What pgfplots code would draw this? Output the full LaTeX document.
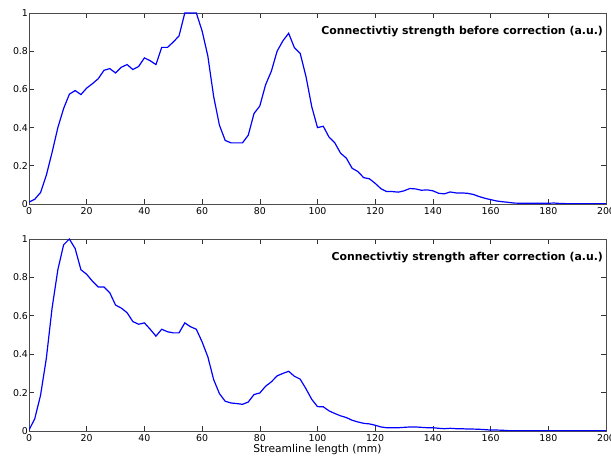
\documentclass[border=0pt]{standalone}
\usepackage{pgfplots}
\pgfplotsset{compat=1.18}
\usepackage{fontspec}
\setmainfont{DejaVu Sans}
\pgfplotstableread{
x y
0 0.01
2 0.025
4 0.06
6 0.15
8 0.27
10 0.40
12 0.50
14 0.575
16 0.594
18 0.573
20 0.607
22 0.63
24 0.656
26 0.70
28 0.709
30 0.686
32 0.716
34 0.73
36 0.704
38 0.72
40 0.765
42 0.75
44 0.73
46 0.82
48 0.82
50 0.848
52 0.88
54 1.0
56 1.0
58 1.0
60 0.906
62 0.774
64 0.563
66 0.413
68 0.333
70 0.32
72 0.32
74 0.32
76 0.36
78 0.474
80 0.513
82 0.624
84 0.695
86 0.80
88 0.854
90 0.894
92 0.818
94 0.788
96 0.668
98 0.51
100 0.40
102 0.407
104 0.35
106 0.32
108 0.266
110 0.24
112 0.187
114 0.17
116 0.138
118 0.132
120 0.108
122 0.08
124 0.065
126 0.065
128 0.062
130 0.069
132 0.081
134 0.079
136 0.072
138 0.074
140 0.069
142 0.056
144 0.053
146 0.063
148 0.058
150 0.058
152 0.056
154 0.05
156 0.039
158 0.03
160 0.023
162 0.016
164 0.012
166 0.009
168 0.005
170 0.004
172 0.004
174 0.004
176 0.004
178 0.004
180 0.004
182 0.005
184 0.003
186 0.002
188 0.002
190 0.002
192 0.002
194 0.002
196 0.002
198 0.002
200 0.002
}\before
\pgfplotstableread{
x y
0 0.005
2 0.064
4 0.186
6 0.377
8 0.64
10 0.84
12 0.97
14 1.0
16 0.95
18 0.84
20 0.816
22 0.78
24 0.75
26 0.75
28 0.72
30 0.656
32 0.64
34 0.616
36 0.57
38 0.556
40 0.563
42 0.53
44 0.494
46 0.53
48 0.517
50 0.511
52 0.511
54 0.563
56 0.543
58 0.53
60 0.464
62 0.386
64 0.268
66 0.195
68 0.155
70 0.146
72 0.143
74 0.139
76 0.151
78 0.19
80 0.198
82 0.233
84 0.256
86 0.287
88 0.30
90 0.311
92 0.285
94 0.27
96 0.22
98 0.165
100 0.127
102 0.126
104 0.105
106 0.091
108 0.079
110 0.07
112 0.056
114 0.047
116 0.04
118 0.037
120 0.03
122 0.021
124 0.017
126 0.017
128 0.017
130 0.019
132 0.021
134 0.021
136 0.019
138 0.017
140 0.017
142 0.014
144 0.012
146 0.014
148 0.012
150 0.012
152 0.01
154 0.01
156 0.009
158 0.007
160 0.005
162 0.005
164 0.004
166 0.002
168 0.002
170 0.002
180 0.002
190 0.002
200 0.002
}\after
\pgfplotsset{
  myaxis/.style={
    scale only axis,
    width=577pt, height=191pt,
    xmin=0, xmax=200, ymin=0, ymax=1,
    xtick={0,20,...,200},
    ytick={0,0.2,0.4,0.6,0.8,1},
    yticklabels={0,0.2,0.4,0.6,0.8,1},
    tick align=inside,
    major tick length=5pt,
    tick style={black!80, line width=0.6pt},
    axis line style={black!70, line width=0.6pt},
    ticklabel style={font=\fontsize{9.4}{10}\selectfont},
    yticklabel style={xshift=2.5pt},
    /pgf/number format/assume math mode=true,
    scaled ticks=false,
    clip=true,
  },
}
\begin{document}
\begin{tikzpicture}
\useasboundingbox (0,0) rectangle (611pt,461pt);
\begin{axis}[myaxis, at={(29pt,257pt)}, anchor=south west]
\addplot[blue, line width=1.2pt, no marks] table[x=x,y=y] {\before};
\node[anchor=east, font=\bfseries\fontsize{10.9}{12}\selectfont, inner sep=0pt] at (rel axis cs:0.995,0.905) {Connectivtiy strength before correction (a.u.)};
\end{axis}
\begin{axis}[myaxis, at={(29pt,30pt)}, anchor=south west, height=192pt,
  xlabel={Streamline length (mm)},
  xlabel style={font=\fontsize{10.7}{12}\selectfont, yshift=4pt}]
\addplot[blue, line width=1.2pt, no marks] table[x=x,y=y] {\after};
\node[anchor=east, font=\bfseries\fontsize{10.9}{12}\selectfont, inner sep=0pt] at (rel axis cs:0.995,0.905) {Connectivtiy strength after correction (a.u.)};
\end{axis}
\end{tikzpicture}
\end{document}
